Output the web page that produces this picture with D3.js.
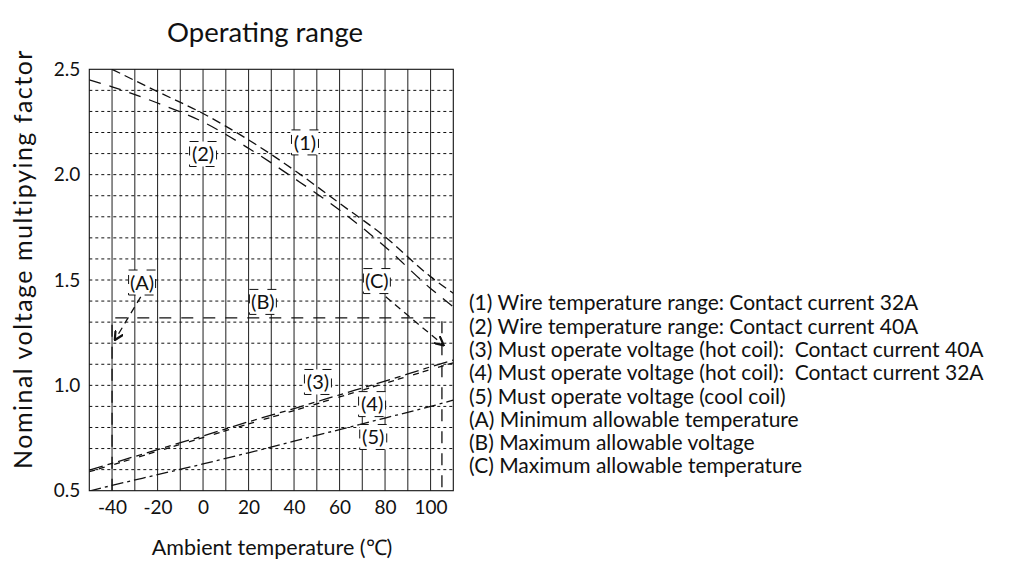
<!DOCTYPE html>
<html>
<head>
<meta charset="utf-8">
<script src="https://d3js.org/d3.v7.min.js"></script>
<style>
body { margin: 0; background: #fff; }
text { font-family: Lato, "Open Sans", sans-serif; fill: #111; white-space: pre; }
</style>
</head>
<body>
<div class="container"></div>
<script>
////////////////////////////////////////////////////////////////
// DATA
////////////////////////////////////////////////////////////////
var temps = [-50, -40, -20, 0, 20, 40, 60, 80, 100, 110]; // ambient temp (C)
var wire32 = [null, 2.50, 2.394, 2.29, 2.165, 2.022, 1.864, 1.705, 1.516, 1.437]; // (1)
var wire40 = [2.45, 2.417, 2.34, 2.25, 2.125, 1.983, 1.832, 1.658, 1.46, 1.373]; // (2)
var hot40 = [0.598, 0.63, 0.695, 0.76, 0.827, 0.89, 0.955, 1.02, 1.088, 1.12]; // (3)
var hot32 = [0.59, 0.622, 0.687, 0.752, 0.817, 0.88, 0.945, 1.01, 1.075, 1.107]; // (4)
var cool = [0.498, 0.525, 0.576, 0.627, 0.68, 0.735, 0.79, 0.845, 0.9, 0.93]; // (5)

var minTemp = -40;   // (A)
var maxVolt = 1.32;  // (B)
var maxTemp = 105;   // (C)

var arrowA = [[-27.4, 1.42], [-38.8, 1.215]];
var arrowC = [[80.3, 1.42], [105.8, 1.19]];

var xTicks = [-40, -20, 0, 20, 40, 60, 80, 100];
var yTicks = [0.5, 1.0, 1.5, 2.0, 2.5];

var marks = ["(1)", "(2)", "(3)", "(4)", "(5)", "(A)", "(B)", "(C)"];
var markAt = [[44.8, 2.153], [0, 2.098], [50.5, 1.016], [74.3, 0.911], [74.8, 0.755], [-26.8, 1.488], [26.3, 1.396], [76.4, 1.495]];

var legend = [
  "(1) Wire temperature range: Contact current 32A",
  "(2) Wire temperature range: Contact current 40A",
  "(3) Must operate voltage (hot coil):  Contact current 40A",
  "(4) Must operate voltage (hot coil):  Contact current 32A",
  "(5) Must operate voltage (cool coil)",
  "(A) Minimum allowable temperature",
  "(B) Maximum allowable voltage",
  "(C) Maximum allowable temperature"
];

////////////////////////////////////////////////////////////////
// STAGE + SCALES
////////////////////////////////////////////////////////////////
var W = 1014, H = 563;
var L = 89.3, R = 453.3, T = 69.3, B = 490.7;

var svg = d3.select(".container").append("svg")
  .attr("width", W).attr("height", H);

var x = d3.scaleLinear().domain([-50, 110]).range([L, R]);
var y = d3.scaleLinear().domain([0.5, 2.5]).range([B, T]);

svg.append("defs").append("clipPath").attr("id", "plot")
  .append("rect").attr("x", L).attr("y", T).attr("width", R - L).attr("height", B - T);

var head = svg.select("defs").append("marker")
  .attr("id", "head").attr("viewBox", "0 0 10 10")
  .attr("refX", 9).attr("refY", 5)
  .attr("markerWidth", 10).attr("markerHeight", 10)
  .attr("markerUnits", "userSpaceOnUse")
  .attr("orient", "auto");
head.append("path").attr("d", "M0,0.5 L9,5 L0,9.5")
  .attr("fill", "none").attr("stroke", "#111").attr("stroke-width", 2.2);

////////////////////////////////////////////////////////////////
// GRID
////////////////////////////////////////////////////////////////
svg.append("g").selectAll("line")
  .data(d3.range(-40, 101, 10))
  .join("line")
  .attr("x1", function(d) { return x(d); }).attr("x2", function(d) { return x(d); })
  .attr("y1", T).attr("y2", B)
  .attr("stroke", "#333").attr("stroke-width", 1.1);

svg.append("g").selectAll("line")
  .data(d3.range(6, 25).map(function(d) { return d / 10; }))
  .join("line")
  .attr("x1", L).attr("x2", R)
  .attr("y1", function(d) { return y(d); }).attr("y2", function(d) { return y(d); })
  .attr("stroke", "#111").attr("stroke-width", 1)
  .attr("stroke-dasharray", "3,3");

svg.append("rect")
  .attr("x", L).attr("y", T).attr("width", R - L).attr("height", B - T)
  .attr("fill", "none").attr("stroke", "#111").attr("stroke-width", 1.1);

////////////////////////////////////////////////////////////////
// CURVES
////////////////////////////////////////////////////////////////
var plot = svg.append("g").attr("clip-path", "url(#plot)");

function drawCurve(vals, dash) {
  var pts = [];
  for (var i = 0; i < temps.length; i++) {
    if (vals[i] != null) pts.push([temps[i], vals[i]]);
  }
  var line = d3.line()
    .x(function(d) { return x(d[0]); })
    .y(function(d) { return y(d[1]); })
    .curve(d3.curveMonotoneX);
  plot.append("path").attr("d", line(pts))
    .attr("fill", "none").attr("stroke", "#111").attr("stroke-width", 1.3)
    .attr("stroke-dasharray", dash);
}

drawCurve(wire32, "9,5");
drawCurve(wire40, "12,9");
drawCurve(hot40, "14,5,6,5");
drawCurve(hot32, "6,4,6,10");
drawCurve(cool, "12,4,3,4");

// limits (A), (B), (C)
var lim = [[minTemp, 0.5], [minTemp, maxVolt], [maxTemp, maxVolt], [maxTemp, 0.5]];
plot.append("path")
  .attr("d", d3.line().x(function(d) { return x(d[0]); }).y(function(d) { return y(d[1]); })(lim))
  .attr("fill", "none").attr("stroke", "#111").attr("stroke-width", 1.3)
  .attr("stroke-dasharray", "12,10");

[arrowA, arrowC].forEach(function(a) {
  svg.append("path")
    .attr("d", d3.line().x(function(d) { return x(d[0]); }).y(function(d) { return y(d[1]); })(a))
    .attr("fill", "none").attr("stroke", "#111").attr("stroke-width", 1.3)
    .attr("stroke-dasharray", "7,5")
    .attr("marker-end", "url(#head)");
});

////////////////////////////////////////////////////////////////
// CURVE MARKS (boxed labels)
////////////////////////////////////////////////////////////////
var tags = svg.append("g").selectAll("g")
  .data(marks)
  .join("g")
  .attr("transform", function(d, i) { return "translate(" + x(markAt[i][0]) + "," + y(markAt[i][1]) + ")"; });

tags.append("rect")
  .attr("x", -13.5).attr("y", -12.5).attr("width", 27).attr("height", 25)
  .attr("fill", "#fff").attr("stroke", "#111").attr("stroke-width", 1)
  .attr("stroke-dasharray", "9,9");

tags.append("text")
  .attr("text-anchor", "middle").attr("dy", "0.36em")
  .attr("font-size", 20)
  .text(function(d) { return d; });

////////////////////////////////////////////////////////////////
// AXES
////////////////////////////////////////////////////////////////
var xAxis = svg.append("g")
  .attr("transform", "translate(0," + B + ")")
  .call(d3.axisBottom(x).tickValues(xTicks).tickSize(0).tickPadding(10)
    .tickFormat(function(d) { return String(d); }));
var yAxis = svg.append("g")
  .attr("transform", "translate(" + L + ",0)")
  .call(d3.axisLeft(y).tickValues(yTicks).tickSize(0).tickPadding(9).tickFormat(d3.format(".1f")));

[xAxis, yAxis].forEach(function(a) {
  a.select(".domain").remove();
  a.selectAll("text").attr("font-size", 19).attr("font-family", "Lato, sans-serif").attr("fill", "#111");
});

svg.append("text")
  .attr("x", 265).attr("y", 42)
  .attr("text-anchor", "middle").attr("font-size", 27.5)
  .text("Operating range");

svg.append("text")
  .attr("x", 272).attr("y", 555)
  .attr("text-anchor", "middle").attr("font-size", 21.5)
  .text("Ambient temperature (℃)");

svg.append("text")
  .attr("transform", "translate(32,259) rotate(-90)")
  .attr("text-anchor", "middle").attr("font-size", 25)
  .attr("letter-spacing", 1.5)
  .text("Nominal voltage multipying factor");

////////////////////////////////////////////////////////////////
// LEGEND TEXT
////////////////////////////////////////////////////////////////
svg.append("g").selectAll("text")
  .data(legend)
  .join("text")
  .attr("x", 469)
  .attr("y", function(d, i) { return 303 + i * 23.3; })
  .attr("dy", "0.35em")
  .attr("font-size", 21)
  .text(function(d) { return d; });
</script>
</body>
</html>
